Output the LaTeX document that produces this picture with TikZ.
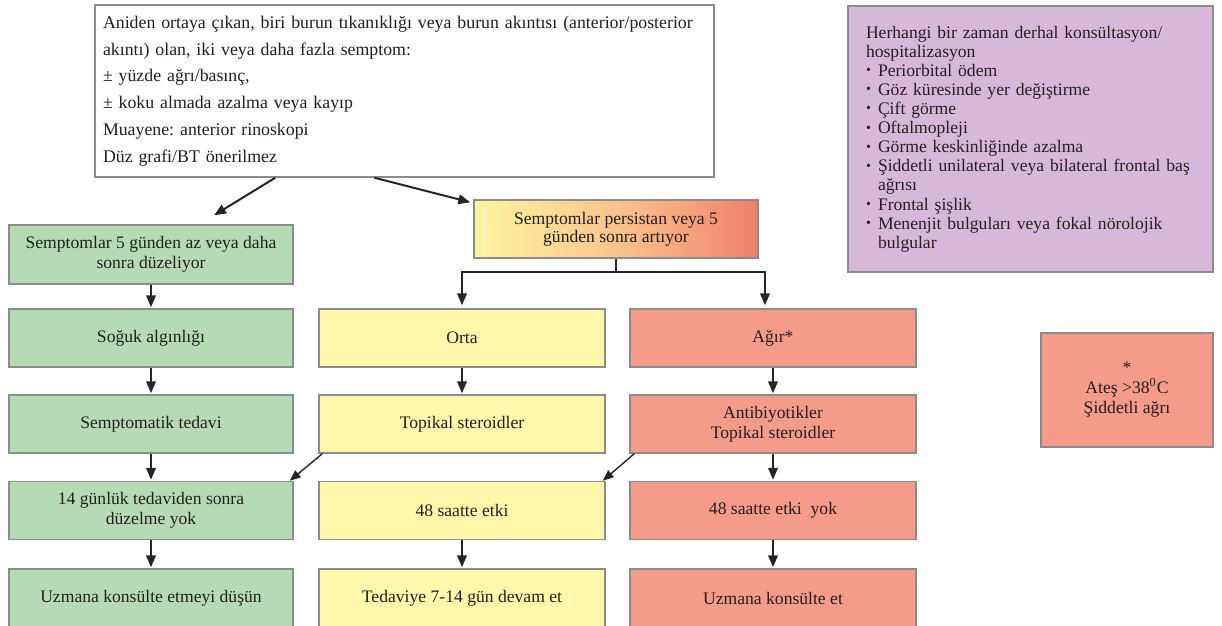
\documentclass[tikz,border=0pt]{standalone}
\usepackage{fontspec}
\setmainfont{Liberation Serif}
\usepackage{graphicx}
\usetikzlibrary{arrows.meta,calc}
\definecolor{grn}{RGB}{181,219,180}
\definecolor{yel}{RGB}{255,248,171}
\definecolor{sal}{RGB}{245,155,138}
\definecolor{pur}{RGB}{216,184,217}
\definecolor{bord}{RGB}{140,140,140}
\definecolor{txt}{RGB}{35,31,32}
\definecolor{gL}{RGB}{255,245,160}
\definecolor{gM}{RGB}{250,196,140}
\definecolor{gR}{RGB}{240,128,108}
\newcommand{\pbul}{\makebox[6pt][l]{\raisebox{0.2ex}{\scalebox{0.8}{•}}}}
\newcommand{\pind}{\hspace*{6pt}}
\frenchspacing
\begin{document}
\begin{tikzpicture}[x=0.5pt,y=-0.5pt,
  box/.style={draw=bord, line width=0.7pt, minimum width=143pt, minimum height=29pt,
    inner sep=2pt, align=center, font=\fontsize{8.8}{10}\selectfont, text=txt},
  gbox/.style={box, fill=grn, minimum width=142pt},
  ybox/.style={box, fill=yel},
  rbox/.style={box, fill=sal},
  arr/.style={-{Triangle[length=6pt,width=4.8pt]}, line width=1pt, black!85},
  darr/.style={-{Triangle[length=5.5pt,width=4.4pt]}, line width=0.7pt, black!85},
  ]
\useasboundingbox (0,0) rectangle (1222,626);
\clip (0,0) rectangle (1222,626);
\fill[white] (0,0) rectangle (1222,626);

% top box
\node[draw=bord, line width=0.7pt, fill=white, text width=301.5pt, minimum height=86pt,
  inner xsep=4pt, inner ysep=0pt, align=left, font=\fontsize{8.9}{13.4}\selectfont, text=txt]
  (top) at (404.5,91) {Aniden ortaya çıkan, biri burun tıkanıklığı veya burun akıntısı (anterior/posterior\\
akıntı) olan, iki veya daha fazla semptom:\\
± yüzde ağrı/basınç,\\
± koku almada azalma veya kayıp\\
Muayene: anterior rinoskopi\\
Düz grafi/BT önerilmez};

% purple box
\node[draw=bord, line width=0.7pt, fill=pur, text width=164.5pt, minimum height=133pt,
  inner xsep=9pt, inner ysep=0pt, align=left, font=\fontsize{8.8}{9.55}\selectfont, text=txt]
  (pur) at (1030.5,139) {Herhangi bir zaman derhal konsültasyon/\\
hospitalizasyon\\
\pbul Periorbital ödem\\
\pbul Göz küresinde yer değiştirme\\
\pbul Çift görme\\
\pbul Oftalmopleji\\
\pbul Görme keskinliğinde azalma\\
\pbul Şiddetli unilateral veya bilateral frontal baş\\
\pind ağrısı\\
\pbul Frontal şişlik\\
\pbul Menenjit bulguları veya fokal nörolojik\\
\pind bulgular};

% gradient box
\node[box, left color=gL, right color=gR, middle color=gM, minimum width=142pt,
  font=\fontsize{8.8}{9}\selectfont] (grad) at (616,229) {Semptomlar persistan veya 5\\günden sonra artıyor};
\draw[white, line width=0.6pt] ($(grad.north west)+(11,10)$) -- ($(grad.south west)+(11,-9)$);

% rows
\node[gbox, minimum height=29.5pt] (g1) at (151,254.5) {Semptomlar 5 günden az veya daha\\sonra düzeliyor};

\node[gbox] (g2) at (151,338) {Soğuk algınlığı};
\node[ybox] (y2) at (462,338) {Orta};
\node[rbox] (r2) at (773,338) {Ağır*};

\node[gbox] (g3) at (151,424) {Semptomatik tedavi};
\node[ybox] (y3) at (462,424) {Topikal steroidler};
\node[rbox] (r3) at (773,424) {Antibiyotikler\\Topikal steroidler};

\node[gbox] (g4) at (151,510.5) {14 günlük tedaviden sonra\\düzelme yok};
\node[ybox] (y4) at (462,510.5) {48 saatte etki};
\node[rbox] (r4) at (773,510.5) {48 saatte etki~~yok};

\node[gbox] (g5) at (151,598) {Uzmana konsülte etmeyi düşün};
\node[ybox] (y5) at (462,598) {Tedaviye 7-14 gün devam et};
\node[rbox] (r5) at (773,598) {Uzmana konsülte et};

% note box
\node[rbox, minimum width=86pt, minimum height=57pt] (note) at (1127,390)
  {*\\Ateş >38\textsuperscript{0}C\\Şiddetli ağrı};

% arrows from top
\draw[arr] ($(top.south west)+(181,0)$) -- ($(g1.north)+(63,-9)$);
\draw[arr] ($(top.south west)+(280,0)$) -- ($(grad.north west)+(-3,3)$);

% split
\draw[line width=1pt, black!85] (grad.south) -- ++(0,13) coordinate (j);
\draw[arr] (j) -| ($(y2.north)+(0,-3)$);
\draw[arr] (j) -| ($(r2.north)+(-8,-3)$);

% vertical arrows
\foreach \a/\b in {g1/g2, g2/g3, g3/g4, g4/g5, y2/y3, y4/y5, r2/r3, r3/r4, r4/r5}
  \draw[arr, shorten >=0.5pt] (\a.south) -- (\b.north);

% diagonal arrows
\draw[darr] ($(y3.south west)+(4,0)$) -- ($(g4.north east)+(-4,0)$);
\draw[darr] ($(r3.south west)+(5,0)$) -- ($(y4.north east)+(-3,0)$);
\end{tikzpicture}
\end{document}
